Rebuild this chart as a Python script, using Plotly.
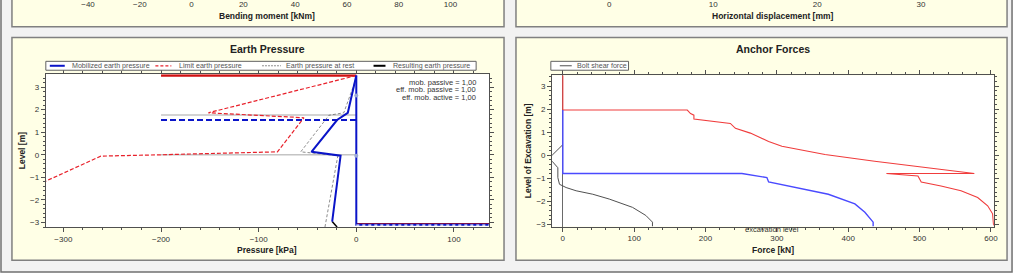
import plotly.graph_objects as go

W, H = 1024, 276
FONT = "Liberation Sans, Arial, sans-serif"

# ---------------- data ----------------
# Earth Pressure panel  (pressure [kPa], level [m])
mob_pressure = [0, -8.7, -19.7, -45.9, -16.1, -24.7]
mob_level = [3.51, 1.86, 1.54, 0.13, -0.04, -2.96]
wall_pressure = [0, 0, 140]
wall_level = [3.51, -3.10, -3.10]
limit_pressure = [0, -151.5, -53.6, -80.8, -200, -261.7, -340]
limit_level = [3.51, 1.86, 1.64, 0.13, 0.0, -0.06, -1.6]
rest_pressure = [0, -12.8, -28, -56.9, -18.9, -32.1]
rest_level = [3.4, 1.86, 1.75, 0.13, -0.04, -3.2]
result_pressure = [-24.7, -19.7]
result_level = [-2.96, -3.2]
ground_pressure = [-200, 0]
ground_level = [3.51, 3.51]
layer_pressure = [-200, 0]
layer1_level = [1.76, 1.76]
layer2_level = [0.0, 0.0]
water_pressure = [-200, 0]
water_level = [1.54, 1.54]
base_pressure = [0, 140]
base_red_level = [-3.07, -3.07]
base_blue_level = [-3.12, -3.12]
node_pressure = [0, 0]
node_level = [2.63, -0.04]
factor_labels = ["mob. passive = 1,00", "eff. mob. passive = 1,00", "eff. mob. active = 1,00"]

# Anchor Forces panel  (force [kN], level [m])
red_force = [0, 0, 174.4, 179, 183.7, 183.7, 234.8, 239.5, 241.9, 262.8, 288.4, 307,
             367.4, 437, 507, 576.7, 453.5, 497.7, 502.3, 530, 558, 581.4, 595.4, 602.3, 603.7]
red_level = [3.5, 1.96, 1.96, 1.81, 1.74, 1.57, 1.38, 1.24, 1.17, 0.96, 0.6, 0.39,
             0.03, -0.26, -0.54, -0.79, -0.79, -0.9, -1.16, -1.33, -1.54, -1.83, -2.19, -2.54, -3.04]
blue_force = [0, 0, 251, 269.8, 286, 288.4, 316.3, 372.1, 409.3, 423.3, 434.9, 434.9]
blue_level = [1.96, -0.79, -0.79, -0.9, -0.97, -1.16, -1.33, -1.69, -2.11, -2.47, -2.9, -3.09]
bolt_force = [0, -19, -15, -7, -7, -4.7, 4.6, 18.6, 41.9, 65.1, 97.7, 116.3, 125.6, 125.6]
bolt_level = [0.46, -0.12, -0.26, -0.54, -0.97, -1.26, -1.4, -1.54, -1.69, -1.9, -2.26, -2.61, -2.9, -3.09]
excavation_force = 293
excavation_level = -3.09

# Axis ticks of the charts above (cut off)
bending_ticks = [-40, -20, 0, 20, 40, 60, 80, 100]
displacement_ticks = [0, 10, 20, 30]


def fx(p):
    return p / W


def fy(p):
    return 1 - p / H


fig = go.Figure()

# ---- Earth pressure traces ----
def ep(x, y, color, width, dash="solid", mode="lines", marker=None):
    fig.add_trace(go.Scatter(x=x, y=y, xaxis="x", yaxis="y", mode=mode,
                             line=dict(color=color, width=width, dash=dash),
                             marker=marker, showlegend=False, hoverinfo="skip"))

ep(layer_pressure, layer1_level, "#C4C4C4", 1.5)
ep(layer_pressure, layer2_level, "#C4C4C4", 1.5)
ep(ground_pressure, ground_level, "#D01010", 2.5)
ep(water_pressure, water_level, "#0A14C8", 2, "6px,3px")
ep(limit_pressure, limit_level, "#E8202A", 1.2, "4px,2px")
ep(rest_pressure, rest_level, "#707070", 0.8, "3px,2px")
ep(result_pressure, result_level, "#000000", 1.5)
ep(mob_pressure, mob_level, "#0A14C8", 2)
ep(base_pressure, base_red_level, "#A01020", 2)
ep(wall_pressure, wall_level, "#0A14C8", 2)
ep(base_pressure, base_blue_level, "#FFFFFF", 1.2, "3px,3px")
ep(node_pressure, node_level, "#8FA0D0", 0, mode="markers",
   marker=dict(size=4, color="#9AA8D8"))

# ---- Anchor traces ----
def an(x, y, color, width):
    fig.add_trace(go.Scatter(x=x, y=y, xaxis="x2", yaxis="y2", mode="lines",
                             line=dict(color=color, width=width),
                             showlegend=False, hoverinfo="skip"))

an(bolt_force, bolt_level, "#505050", 1)
an(red_force, red_level, "#F03C3C", 1.1)
an(blue_force, blue_level, "#4A4AFF", 1.4)

# dummy traces for the cut-off axes above
fig.add_trace(go.Scatter(x=[], y=[], xaxis="x3", yaxis="y3", showlegend=False))
fig.add_trace(go.Scatter(x=[], y=[], xaxis="x4", yaxis="y4", showlegend=False))

axis_common = dict(showgrid=False, zeroline=False, showline=True, linecolor="#505050",
                   linewidth=1, ticks="outside", ticklen=4, tickcolor="#505050",
                   mirror="ticks", tickfont=dict(family=FONT, size=8, color="#333333"))

EP_X = (46, 491)
EP_Y = (75, 229.5)
AF_X = (554.3, 997.7)
AF_Y = (76.3, 229)

fig.update_layout(
    width=W, height=H, margin=dict(l=0, r=0, t=0, b=0),
    paper_bgcolor="#FFFFFF", plot_bgcolor="rgba(0,0,0,0)",
    font=dict(family=FONT, size=8, color="#333333"),
    xaxis=dict(domain=[fx(EP_X[0]), fx(EP_X[1])], anchor="y", range=[-318, 136],
               dtick=100, minor=dict(dtick=20, ticks="outside", ticklen=2, tickcolor="#505050"),
               **axis_common),
    yaxis=dict(domain=[fy(EP_Y[1]), fy(EP_Y[0])], anchor="x", range=[-3.2, 3.57],
               dtick=1, minor=dict(dtick=0.2, ticks="outside", ticklen=2, tickcolor="#505050"),
               **axis_common),
    xaxis2=dict(domain=[fx(AF_X[0]), fx(AF_X[1])], anchor="y2", range=[-15, 604],
                dtick=100, minor=dict(dtick=20, ticks="outside", ticklen=2, tickcolor="#505050"),
                **{**axis_common, "zeroline": True, "zerolinecolor": "#6A6A6A", "zerolinewidth": 1}),
    yaxis2=dict(domain=[fy(AF_Y[1]), fy(AF_Y[0])], anchor="x2", range=[-3.09, 3.46],
                dtick=1, minor=dict(dtick=0.2, ticks="outside", ticklen=2, tickcolor="#505050"),
                **axis_common),
    xaxis3=dict(domain=[fx(EP_X[0]), fx(EP_X[1])], anchor="y3", range=[-56.3, 114.9],
                tickvals=bending_ticks, showline=False, showgrid=False, zeroline=False,
                ticks="", side="top", tickfont=dict(family=FONT, size=8, color="#333333")),
    yaxis3=dict(domain=[fy(12), fy(10)], anchor="x3", visible=False, range=[0, 1]),
    xaxis4=dict(domain=[fx(AF_X[0]), fx(AF_X[1])], anchor="y4", range=[-5.5, 37.0],
                tickvals=displacement_ticks, showline=False, showgrid=False, zeroline=False,
                ticks="", side="top", tickfont=dict(family=FONT, size=8, color="#333333")),
    yaxis4=dict(domain=[fy(12), fy(10)], anchor="x4", visible=False, range=[0, 1]),
)

shapes = []
# outer frame
shapes.append(dict(type="rect", xref="paper", yref="paper", x0=fx(1), x1=fx(1016), y0=fy(275), y1=fy(-10),
                   fillcolor="#F2F2F2", line=dict(color="#707070", width=1.5), layer="below"))
# panels
for (x0, x1, y0, y1) in [(12, 506, -10, 27), (518, 1011, -10, 27), (12, 506, 38, 263), (518, 1011, 38, 263)]:
    shapes.append(dict(type="rect", xref="paper", yref="paper", x0=fx(x0), x1=fx(x1), y0=fy(y1), y1=fy(y0),
                       fillcolor="#FFFFE6", line=dict(color="#808080", width=1.5), layer="below"))
# white plot areas
for xr, yr in [("x", "y"), ("x2", "y2")]:
    shapes.append(dict(type="rect", xref=xr + " domain", yref=yr + " domain", x0=0, x1=1, y0=0, y1=1,
                       fillcolor="#FFFFFF", line=dict(width=0), layer="below"))

annotations = []

def txt(text, x, y, size=8, bold=False, xanchor="center", angle=0, color="#222222"):
    t = f"<b>{text}</b>" if bold else text
    annotations.append(dict(text=t, x=fx(x), y=fy(y), xref="paper", yref="paper", showarrow=False,
                            xanchor=xanchor, yanchor="middle", textangle=angle,
                            font=dict(family=FONT, size=size, color=color)))

txt("Bending moment [kNm]", 268.5, 16, 8.5, True)
txt("Horizontal displacement [mm]", 776, 16, 8.5, True)
txt("Earth Pressure", 268.5, 50, 10.5, True)
txt("Anchor Forces", 776, 50, 10.5, True)
txt("Pressure [kPa]", 268.5, 253, 8.5, True)
txt("Force [kN]", 776, 253, 8.5, True)
txt("Level [m]", 22, 152, 8.5, True, angle=-90)
txt("Level of Excavation [m]", 530, 152, 8.5, True, angle=-90)
for i, s in enumerate(factor_labels):
    txt(s, 480, 83 + 7.8 * i, 7.5, xanchor="right", color="#333333")

# excavation level label (data coords)
annotations.append(dict(text="excavation level", x=excavation_force, y=excavation_level, xref="x2", yref="y2",
                        showarrow=False, xanchor="center", yanchor="middle", yshift=-3,
                        font=dict(family=FONT, size=7.5, color="#333333")))

# ---- legends (drawn manually: compact boxes like the original) ----
shapes.append(dict(type="rect", xref="paper", yref="paper", x0=fx(46), x1=fx(478), y0=fy(71), y1=fy(62),
                   fillcolor="#FFFFFF", line=dict(color="#606060", width=1)))
shapes.append(dict(type="rect", xref="paper", yref="paper", x0=fx(553), x1=fx(631), y0=fy(71), y1=fy(62),
                   fillcolor="#FFFFFF", line=dict(color="#606060", width=1)))
legend_items = [
    (50, 65, "#0A14C8", 2, "solid", "Mobilized earth pressure", 70),
    (156, 172, "#E8202A", 1.2, "3px,2px", "Limit earth pressure", 178),
    (263, 282, "#707070", 0.8, "2px,1px", "Earth pressure at rest", 285),
    (375, 387, "#000000", 2, "solid", "Resulting earth pressure", 393),
    (562, 574, "#505050", 1, "solid", "Bolt shear force", 577),
]
for (a, b, col, wdt, dsh, label, tx) in legend_items:
    shapes.append(dict(type="line", xref="paper", yref="paper", x0=fx(a), x1=fx(b), y0=fy(66.5), y1=fy(66.5),
                       line=dict(color=col, width=wdt, dash=dsh)))
    txt(label, tx, 66.5, 7.1, xanchor="left", color="#555555")

fig.update_layout(shapes=shapes, annotations=annotations)

fig.write_html("out.html")
